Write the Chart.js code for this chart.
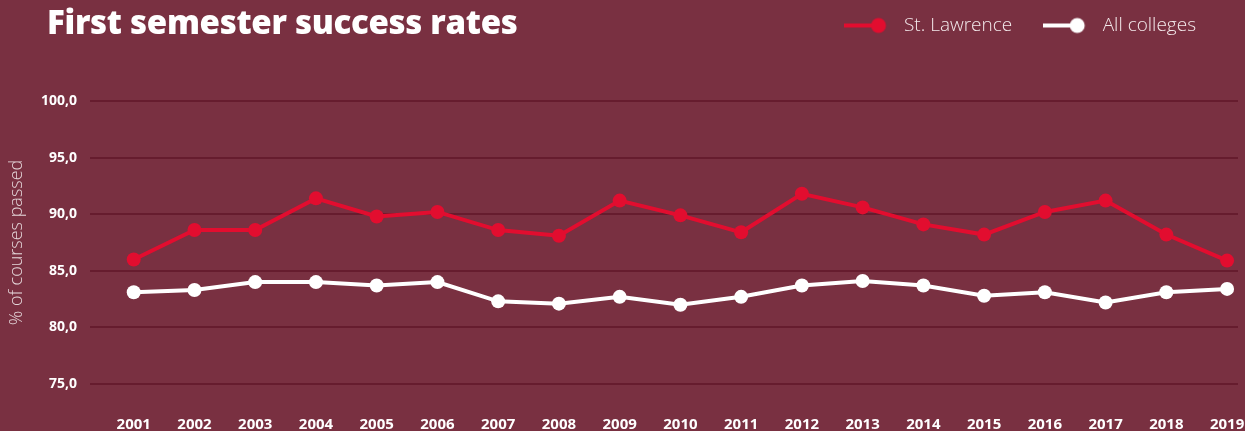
<!DOCTYPE html>
<html>
<head>
<meta charset="utf-8">
<script src="https://cdn.jsdelivr.net/npm/chart.js@4/dist/chart.umd.min.js"></script>
<style>
  html, body { margin: 0; padding: 0; background: #793041; overflow: hidden; }
  #wrap { position: relative; width: 1245px; height: 431px; }
  #title {
    position: absolute; left: 47px; top: 5px; margin: 0;
    font: 800 33px/34px "Open Sans", sans-serif; color: #ffffff; letter-spacing: -0.3px;
  }
</style>
</head>
<body>
<div id="wrap">
  <h1 id="title">First semester success rates</h1>
  <canvas id="lineChart"></canvas>
</div>
<script>
var years = [2001, 2002, 2003, 2004, 2005, 2006, 2007, 2008, 2009, 2010,
             2011, 2012, 2013, 2014, 2015, 2016, 2017, 2018, 2019];
var stLawrence = [86.0, 88.6, 88.6, 91.4, 89.8, 90.2, 88.6, 88.1, 91.2, 89.9,
                  88.4, 91.8, 90.6, 89.1, 88.2, 90.2, 91.2, 88.2, 85.9];
var allColleges = [83.1, 83.3, 84.0, 84.0, 83.7, 84.0, 82.3, 82.1, 82.7, 82.0,
                   82.7, 83.7, 84.1, 83.7, 82.8, 83.1, 82.2, 83.1, 83.4];
var yTicks = [75, 80, 85, 90, 95, 100];

var RED = '#e20d2f';
var WHITE = '#ffffff';

function marker(color) {
    var c = document.createElement('canvas');
    c.width = 50; c.height = 18;
    var g = c.getContext('2d');
    g.strokeStyle = color; g.lineWidth = 4;
    g.beginPath(); g.moveTo(0, 9); g.lineTo(34, 9); g.stroke();
    g.fillStyle = color;
    g.beginPath(); g.arc(34, 9, 7.5, 0, Math.PI * 2); g.fill();
    return c;
}

function points(values) {
    return years.map(function (y, i) { return {x: y, y: values[i]}; });
}

var legendTweak = {
    id: 'legendTweak',
    beforeInit: function (chart) {
        var fit = chart.legend.fit;
        chart.legend.fit = function () {
            fit.call(this);
            this.height = 101;
        };
    },
    afterLayout: function (chart) {
        chart.legend.top = -15;
        chart.legend.right = 1227;
    }
};

var ctx = document.getElementById('lineChart').getContext('2d');
var chart = new Chart(ctx, {
    type: 'line',
    data: {
        datasets: [
            {
                label: 'St. Lawrence',
                data: points(stLawrence),
                borderColor: RED,
                backgroundColor: RED,
                pointStyle: 'circle',
                borderWidth: 4,
                pointRadius: 7,
                pointHoverRadius: 7,
                pointBorderWidth: 0,
                legendMarker: marker(RED),
                fill: false
            },
            {
                label: 'All colleges',
                data: points(allColleges),
                borderColor: WHITE,
                backgroundColor: WHITE,
                pointStyle: 'circle',
                borderWidth: 4,
                pointRadius: 7,
                pointHoverRadius: 7,
                pointBorderWidth: 0,
                legendMarker: marker(WHITE),
                fill: false
            }
        ]
    },
    options: {
        responsive: true,
        maintainAspectRatio: false,
        animation: false,
        layout: { padding: { left: 0, right: 5, top: 0, bottom: 0 } },
        plugins: {
            tooltip: { enabled: false },
            legend: {
                position: 'top',
                align: 'end',
                labels: {
                    usePointStyle: true,
                    pointStyleWidth: 50,
                    padding: 31,
                    color: '#f3e9eb',
                    font: { family: 'Open Sans', size: 19, weight: '300' },
                    generateLabels: function (chart) {
                        return chart.data.datasets.map(function (ds, i) {
                            return {
                                text: ds.label,
                                pointStyle: ds.legendMarker,
                                fontColor: '#f3e9eb',
                                lineWidth: 0,
                                datasetIndex: i
                            };
                        });
                    }
                }
            }
        },
        scales: {
            x: {
                type: 'linear',
                min: 2000.28,
                max: 2019.18,
                grid: { display: false },
                border: { display: false },
                afterFit: function (s) {
                    s.height = 47;
                    s.paddingLeft = 0;
                    s.paddingRight = 0;
                },
                ticks: {
                    stepSize: 1,
                    includeBounds: false,
                    autoSkip: false,
                    maxRotation: 0,
                    padding: 24,
                    color: '#ffffff',
                    font: { family: 'Open Sans', size: 15, weight: 'bold' },
                    callback: function (v) { return Number.isInteger(v) ? String(v) : ''; }
                }
            },
            y: {
                min: yTicks[0],
                max: yTicks[yTicks.length - 1],
                afterFit: function (s) { s.width = 90; },
                border: { display: false },
                grid: { color: '#661c2e', lineWidth: 2, drawTicks: false },
                title: {
                    display: true,
                    text: '% of courses passed',
                    color: 'rgba(255,255,255,0.8)',
                    font: { family: 'Open Sans', size: 18, weight: '300' },
                    padding: { top: 6, bottom: 0 }
                },
                ticks: {
                    stepSize: 5,
                    padding: 13,
                    color: '#ffffff',
                    font: { family: 'Open Sans', size: 14, weight: 'bold' },
                    callback: function (v) { return v.toFixed(1).replace('.', ','); }
                }
            }
        }
    },
    plugins: [legendTweak]
});
</script>
</body>
</html>
